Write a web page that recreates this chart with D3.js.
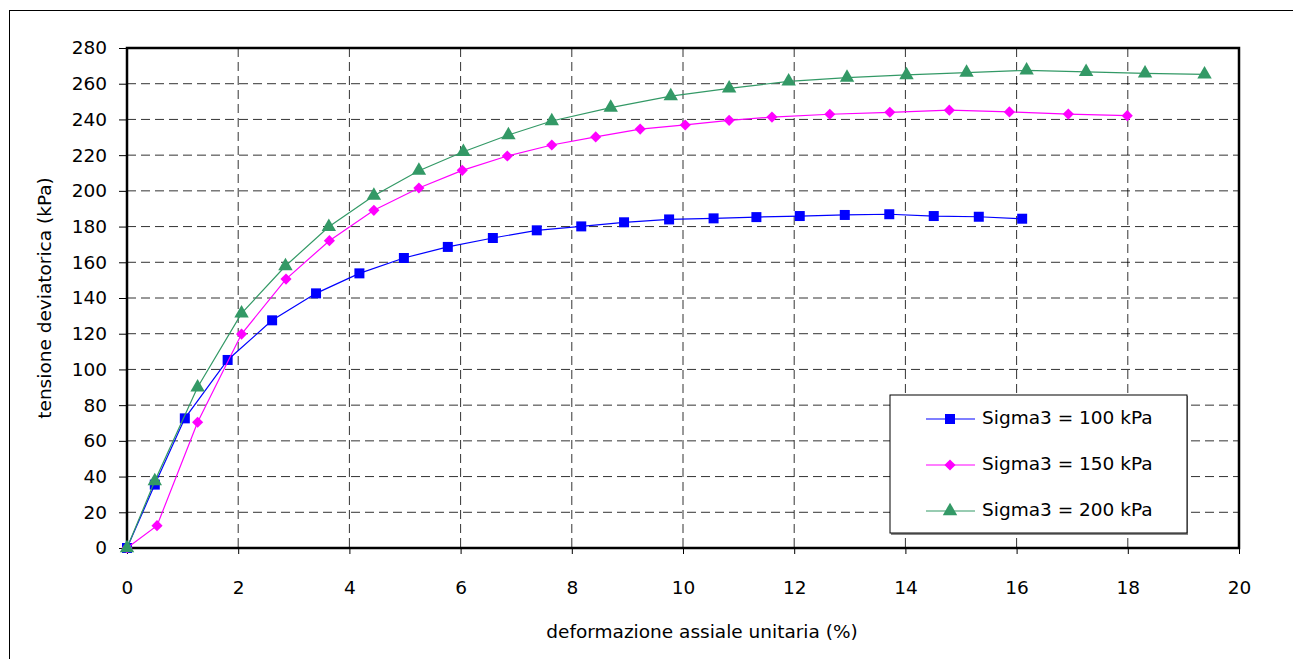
<!DOCTYPE html>
<html><head><meta charset="utf-8">
<script src="https://cdn.jsdelivr.net/npm/d3@7"></script>
<style>
html,body{margin:0;padding:0;background:#fff;}
text{font-family:"Comic Sans MS","DejaVu Sans",sans-serif;fill:#000;}
</style></head>
<body><svg id="c" width="1293" height="659"></svg>
<script>
const seriesNames = ["Sigma3 = 100 kPa","Sigma3 = 150 kPa","Sigma3 = 200 kPa"];
const xTicks = [0,2,4,6,8,10,12,14,16,18,20];
const yTicks = [0,20,40,60,80,100,120,140,160,180,200,220,240,260,280];

const x100 = [0,0.5,1.04,1.81,2.61,3.40,4.18,4.98,5.77,6.58,7.37,8.17,8.94,9.75,10.55,11.32,12.10,12.91,13.71,14.51,15.32,16.10];
const y100 = [0,35.5,72.6,105.3,127.5,142.6,153.8,162.4,168.6,173.6,177.9,180.1,182.4,184.0,184.6,185.3,185.9,186.5,186.9,185.9,185.5,184.4];

const x150 = [0,0.54,1.27,2.06,2.86,3.64,4.44,5.25,6.03,6.84,7.64,8.43,9.23,10.04,10.83,11.60,12.64,13.72,14.79,15.87,16.93,17.99];
const y150 = [0,12.5,70.4,119.8,150.6,172.1,189.1,201.6,211.5,219.5,225.7,230.2,234.6,236.9,239.5,241.3,242.9,244.0,245.2,244.2,243.0,242.1];

const x200 = [0,0.50,1.27,2.06,2.85,3.63,4.44,5.25,6.05,6.86,7.64,8.70,9.78,10.83,11.90,12.95,14.02,15.10,16.18,17.25,18.31,19.38];
const y200 = [0,37.5,90.0,131.4,157.9,179.9,197.3,211.3,221.9,231.3,239.1,246.6,253.1,257.4,261.3,263.4,264.9,266.2,267.5,266.6,265.8,265.2];

const colors = ["#0000FF","#FF00FF","#339966"];
const symbols = [d3.symbolSquare, d3.symbolSquare, d3.symbolTriangle];
const symSizes = [100, 62, 90];
const symRot = [0, 45, 0];

const svg = d3.select("#c");
svg.append("rect").attr("x",9.5).attr("y",10.5).attr("width",1400).attr("height",800)
  .attr("fill","none").attr("stroke","#000").attr("stroke-width",1);

const L=127, R=1239, T=48, B=548;
const x = d3.scaleLinear().domain([0,20]).range([L,R]);
const y = d3.scaleLinear().domain([0,280]).range([B,T]);

const g = svg.append("g");
g.selectAll(".gx").data(xTicks.slice(1,-1)).join("line")
  .attr("x1",d=>x(d)).attr("x2",d=>x(d)).attr("y1",T).attr("y2",B)
  .attr("stroke","#000").attr("stroke-width",1).attr("stroke-dasharray","9,5").attr("opacity",0.8);
g.selectAll(".gy").data(yTicks.slice(1,-1)).join("line")
  .attr("x1",L).attr("x2",R).attr("y1",d=>y(d)).attr("y2",d=>y(d))
  .attr("stroke","#000").attr("stroke-width",1).attr("stroke-dasharray","9,5").attr("opacity",0.8);

const FS = "18.5px";
const xAxis = d3.axisBottom(x).tickValues(xTicks).tickSize(6).tickFormat(d3.format("d"));
const yAxis = d3.axisLeft(y).tickValues(yTicks).tickSize(8).tickPadding(12).tickFormat(d3.format("d"));
const gx = svg.append("g").attr("transform",`translate(0,${B})`).call(xAxis);
const gy = svg.append("g").attr("transform",`translate(${L},0)`).call(yAxis);
[gx,gy].forEach(a=>{
  a.select(".domain").remove();
  a.selectAll("line").attr("stroke","#000");
  a.selectAll("text").style("font-size",FS).attr("fill","#000");
});
gx.selectAll("text").attr("dy","0.35em").attr("y",40);

svg.append("rect").attr("x",L).attr("y",T).attr("width",R-L).attr("height",B-T)
  .attr("fill","none").attr("stroke","#000").attr("stroke-width",2.5);

const data = [
  x100.map((v,i)=>[v,y100[i]]),
  x150.map((v,i)=>[v,y150[i]]),
  x200.map((v,i)=>[v,y200[i]])
];
const line = d3.line().x(d=>x(d[0])).y(d=>y(d[1]));
data.forEach((s,k)=>{
  svg.append("path").datum(s).attr("d",line).attr("fill","none")
    .attr("stroke",colors[k]).attr("stroke-width",1.2);
  svg.append("g").selectAll("path").data(s).join("path")
    .attr("d",d3.symbol().type(symbols[k]).size(symSizes[k]))
    .attr("transform",d=>`translate(${x(d[0])},${y(d[1])}) rotate(${symRot[k]})`)
    .attr("fill",colors[k]);
});

svg.append("text").attr("x",702).attr("y",633).attr("text-anchor","middle")
  .attr("dominant-baseline","middle").style("font-size",FS).text("deformazione assiale unitaria (%)");
svg.append("text").attr("transform","translate(46,298) rotate(-90)").attr("text-anchor","middle")
  .attr("dominant-baseline","middle").style("font-size",FS).text("tensione deviatorica (kPa)");

const lg = svg.append("g");
lg.append("rect").attr("x",891).attr("y",396).attr("width",297).attr("height",139).attr("fill","#888");
lg.append("rect").attr("x",890).attr("y",395).attr("width",297).attr("height",138)
  .attr("fill","#fff").attr("stroke","#000").attr("stroke-width",1);
const rowsY = [419,465,511];
seriesNames.forEach((n,k)=>{
  lg.append("line").attr("x1",926).attr("x2",975).attr("y1",rowsY[k]).attr("y2",rowsY[k])
    .attr("stroke",colors[k]).attr("stroke-width",1.2);
  lg.append("path").attr("d",d3.symbol().type(symbols[k]).size(symSizes[k]))
    .attr("transform",`translate(950,${rowsY[k]}) rotate(${symRot[k]})`).attr("fill",colors[k]);
  lg.append("text").attr("x",982).attr("y",rowsY[k]).attr("dominant-baseline","middle")
    .style("font-size",FS).text(n);
});
</script></body></html>
